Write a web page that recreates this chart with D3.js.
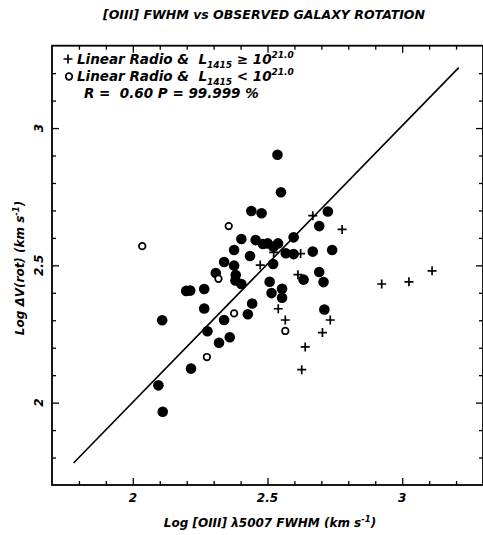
<!DOCTYPE html>
<html>
<head>
<meta charset="utf-8">
<script src="https://cdnjs.cloudflare.com/ajax/libs/d3/7.8.5/d3.min.js"></script>
<style>
    body { margin: 0; background: #fff; }
    text { font-family: "DejaVu Sans"; font-weight: bold; font-style: italic; fill: #000; }
</style>
</head>
<body>
<div id="chart"></div>
<script>
var svgWidth = 483;
var svgHeight = 535;

// Filled circles (log FWHM, log dV rot)
var filledPoints = [
    [2.537, 2.903], [2.550, 2.766], [2.440, 2.698], [2.478, 2.690], [2.724, 2.696],
    [2.692, 2.643], [2.403, 2.596], [2.456, 2.592], [2.483, 2.578], [2.501, 2.580],
    [2.539, 2.580], [2.522, 2.568], [2.597, 2.602], [2.568, 2.544], [2.597, 2.541],
    [2.668, 2.550], [2.740, 2.556], [2.376, 2.556], [2.435, 2.534], [2.521, 2.505],
    [2.339, 2.512], [2.376, 2.499], [2.308, 2.472], [2.382, 2.465], [2.381, 2.445],
    [2.403, 2.432], [2.634, 2.448], [2.692, 2.476], [2.708, 2.439], [2.508, 2.440],
    [2.515, 2.399], [2.554, 2.415], [2.554, 2.382], [2.198, 2.407], [2.213, 2.408],
    [2.265, 2.414], [2.265, 2.343], [2.443, 2.361], [2.427, 2.322], [2.339, 2.301],
    [2.109, 2.300], [2.277, 2.260], [2.360, 2.238], [2.320, 2.218], [2.216, 2.124],
    [2.095, 2.063], [2.111, 1.967], [2.711, 2.339]
];
// Open circles: linear radio, L1415 < 10^21
var openPoints = [
    [2.035, 2.570], [2.356, 2.643], [2.318, 2.451], [2.376, 2.325], [2.275, 2.166], [2.566, 2.261]
];
// Crosses: linear radio, L1415 >= 10^21
var crossPoints = [
    [2.668, 2.681], [2.777, 2.631], [2.523, 2.547], [2.623, 2.543], [2.473, 2.501],
    [2.613, 2.466], [2.540, 2.342], [2.566, 2.301], [2.733, 2.301], [2.704, 2.255],
    [2.640, 2.203], [2.627, 2.120], [2.924, 2.432], [3.025, 2.440], [3.111, 2.480]
];
// Fitted line end points
var fitLine = [[1.78, 1.78], [3.21, 3.22]];

var xMajorTicks = [2, 2.5, 3];
var xTickLabels = ["2", "2.5", "3"];
var yMajorTicks = [2, 2.5, 3];
var yTickLabels = ["2", "2.5", "3"];
var minorTicks = [1.8, 1.9, 2.1, 2.2, 2.3, 2.4, 2.6, 2.7, 2.8, 2.9, 3.1, 3.2];

var svg = d3.select("#chart")
    .append("svg")
    .attr("width", svgWidth)
    .attr("height", svgHeight);

var xScale = d3.scaleLinear().domain([1.7, 3.3]).range([52, 483]);
var yScale = d3.scaleLinear().domain([1.7, 3.3]).range([485, 45.7]);

// Ticks pointing into the frame on all four sides
function addTicks(axisFn, scale, values, size, transform) {
    svg.append("g")
        .attr("transform", transform)
        .call(axisFn(scale).tickValues(values).tickSize(-size).tickFormat(""))
        .call(g => g.select(".domain").remove())
        .selectAll("line")
        .attr("stroke", "#000")
        .attr("stroke-width", 1.3);
}
addTicks(d3.axisBottom, xScale, minorTicks, 4, "translate(0,485)");
addTicks(d3.axisBottom, xScale, xMajorTicks, 7, "translate(0,485)");
addTicks(d3.axisTop, xScale, minorTicks, 4, "translate(0,45.7)");
addTicks(d3.axisTop, xScale, xMajorTicks, 7, "translate(0,45.7)");
addTicks(d3.axisLeft, yScale, minorTicks, 4, "translate(52,0)");
addTicks(d3.axisLeft, yScale, yMajorTicks, 7, "translate(52,0)");
addTicks(d3.axisRight, yScale, minorTicks, 4, "translate(483,0)");
addTicks(d3.axisRight, yScale, yMajorTicks, 7, "translate(483,0)");

// Frame
svg.append("rect")
    .attr("x", xScale(1.7))
    .attr("y", yScale(3.3))
    .attr("width", xScale(3.3) - xScale(1.7))
    .attr("height", yScale(1.7) - yScale(3.3))
    .attr("fill", "none")
    .attr("stroke", "#000")
    .attr("stroke-width", 1.8);

// Tick labels
svg.selectAll(".xlab")
    .data(xMajorTicks)
    .enter()
    .append("text")
    .attr("x", d => xScale(d))
    .attr("y", 502)
    .attr("text-anchor", "middle")
    .style("font-size", "12px")
    .text((d, i) => xTickLabels[i]);

svg.selectAll(".ylab")
    .data(yMajorTicks)
    .enter()
    .append("text")
    .attr("transform", d => `translate(43, ${yScale(d)}) rotate(-90)`)
    .attr("text-anchor", "middle")
    .style("font-size", "12px")
    .text((d, i) => yTickLabels[i]);

// Fit line
svg.append("path")
    .datum(fitLine)
    .attr("fill", "none")
    .attr("stroke", "#000")
    .attr("stroke-width", 1.6)
    .attr("d", d3.line().x(d => xScale(d[0])).y(d => yScale(d[1])));

// Points
svg.selectAll(".filled")
    .data(filledPoints)
    .enter()
    .append("circle")
    .attr("cx", d => xScale(d[0]))
    .attr("cy", d => yScale(d[1]))
    .attr("r", 5.3)
    .attr("fill", "#000");

svg.selectAll(".open")
    .data(openPoints)
    .enter()
    .append("circle")
    .attr("cx", d => xScale(d[0]))
    .attr("cy", d => yScale(d[1]))
    .attr("r", 3.3)
    .attr("fill", "#fff")
    .attr("stroke", "#000")
    .attr("stroke-width", 1.7);

var crossPath = "M-4.5,0H4.5M0,-4.5V4.5";
svg.selectAll(".cross")
    .data(crossPoints)
    .enter()
    .append("path")
    .attr("transform", d => `translate(${xScale(d[0])}, ${yScale(d[1])})`)
    .attr("d", crossPath)
    .attr("stroke", "#000")
    .attr("stroke-width", 1.7);

// Title
svg.append("text")
    .attr("x", 264)
    .attr("y", 19)
    .attr("text-anchor", "middle")
    .attr("textLength", 322)
    .attr("lengthAdjust", "spacingAndGlyphs")
    .style("font-size", "12px")
    .text("[OIII] FWHM vs OBSERVED GALAXY ROTATION");

// Legend
svg.append("path")
    .attr("transform", "translate(68, 59)")
    .attr("d", crossPath)
    .attr("stroke", "#000")
    .attr("stroke-width", 1.7);
svg.append("circle")
    .attr("cx", 69)
    .attr("cy", 76.5)
    .attr("r", 3.3)
    .attr("fill", "#fff")
    .attr("stroke", "#000")
    .attr("stroke-width", 1.7);

function legendLine(y, sign) {
    var t = svg.append("text")
        .attr("x", 77)
        .attr("y", y)
        .style("font-size", "13.5px");
    t.append("tspan").text("Linear Radio &\u00a0\u00a0L");
    t.append("tspan").attr("dy", 4).style("font-size", "9px").text("1415");
    t.append("tspan").attr("dy", -4).text(" " + sign + " 10");
    t.append("tspan").attr("dy", -6).style("font-size", "9px").text("21.0");
}
legendLine(64, "\u2265");
legendLine(81, "<");

svg.append("text")
    .attr("x", 84)
    .attr("y", 98)
    .style("font-size", "13.5px")
    .text("R =\u00a0\u00a00.60 P = 99.999 %");

// Axis titles
var xTitle = svg.append("text")
    .attr("x", 270)
    .attr("y", 527)
    .attr("text-anchor", "middle")
    .style("font-size", "12px");
xTitle.append("tspan").text("Log [OIII] \u03bb5007 FWHM (km s");
xTitle.append("tspan").attr("dy", -5).style("font-size", "8.5px").text("-1");
xTitle.append("tspan").attr("dy", 5).text(")");

var yTitle = svg.append("text")
    .attr("transform", "translate(24, 268) rotate(-90)")
    .attr("text-anchor", "middle")
    .style("font-size", "12px");
yTitle.append("tspan").text("Log \u0394V(rot) (km s");
yTitle.append("tspan").attr("dy", -5).style("font-size", "8.5px").text("-1");
yTitle.append("tspan").attr("dy", 5).text(")");
</script>
</body>
</html>
